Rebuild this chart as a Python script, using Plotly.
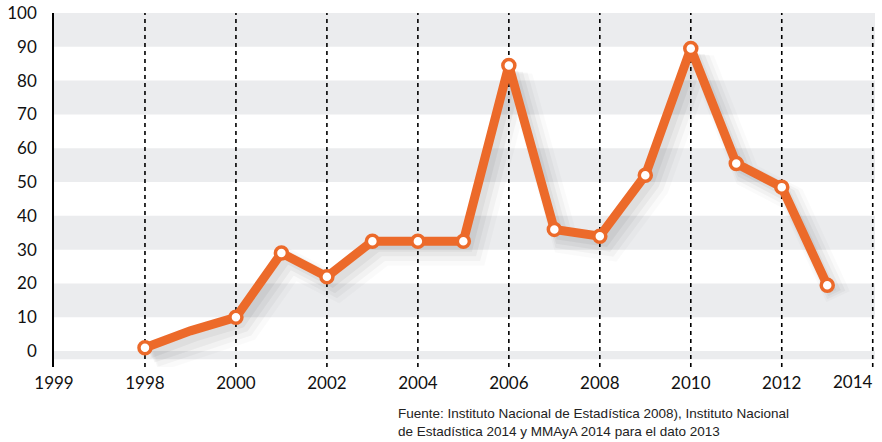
import plotly.graph_objects as go

years = [1998, 1999, 2000, 2001, 2002, 2003, 2004, 2005, 2006, 2007, 2008, 2009, 2010, 2011, 2012, 2013]
values = [1, 6, 10, 29, 22, 32.5, 32.5, 32.5, 84.5, 36, 34, 52, 89.5, 55.5, 48.5, 19.5]
tick_vals = [1996, 1998, 2000, 2002, 2004, 2006, 2008, 2010, 2012, 2014]
tick_text = ["1999", "1998", "2000", "2002", "2004", "2006", "2008", "2010", "2012", "2014"]
y_ticks = [0, 10, 20, 30, 40, 50, 60, 70, 80, 90, 100]
source = "Fuente: Instituto Nacional de Estadística 2008), Instituto Nacional<br>de Estadística 2014 y MMAyA 2014 para el dato 2013"

ORANGE = "#EC6A2A"

fig = go.Figure()

# soft shadow (offset copies of the same data)
for w, a, dx, dy in [(26, 0.02, 0.24, -3.4), (20, 0.03, 0.2, -2.9), (14, 0.04, 0.16, -2.4), (8, 0.045, 0.12, -1.9)]:
    fig.add_trace(go.Scatter(
        x=[x + dx for x in years], y=[v + dy for v in values], mode="lines",
        line=dict(color=f"rgba(0,0,0,{a})", width=w), hoverinfo="skip", showlegend=False))

fig.add_trace(go.Scatter(
    x=years, y=values, mode="lines",
    line=dict(color=ORANGE, width=9), showlegend=False))

mk_x = [x for x in years if x != 1999]
mk_y = [v for x, v in zip(years, values) if x != 1999]
fig.add_trace(go.Scatter(
    x=mk_x, y=mk_y, mode="markers",
    marker=dict(size=12, color="white", opacity=1, line=dict(color=ORANGE, width=3.5)),
    showlegend=False))

shapes = []
for lo in [10, 30, 50, 70, 90]:
    shapes.append(dict(type="rect", xref="paper", x0=0, x1=1, yref="y", y0=lo, y1=lo + 10,
                       fillcolor="#EBECEE", line=dict(width=0), layer="below"))
shapes.append(dict(type="rect", xref="paper", x0=0, x1=1, yref="y", y0=-2.4, y1=0,
                   fillcolor="#EBECEE", line=dict(width=0), layer="below"))
for t in tick_vals[1:]:
    shapes.append(dict(type="line", xref="x", x0=t, x1=t, yref="y", y0=-4.7, y1=100 if t != 2014 else 97,
                       line=dict(color="black", width=1.6, dash="4px,4px"), layer="below"))

annotations = [dict(text=source, xref="paper", yref="paper", x=0.416, y=-0.105,
                    xanchor="left", yanchor="top", align="left", showarrow=False,
                    font=dict(family="Liberation Sans, Arial, sans-serif", size=13.5, color="#222"))]
# last x tick label, right-aligned to its gridline so it fits inside the canvas
annotations.append(dict(text=tick_text[-1], xref="x", yref="paper", x=tick_vals[-1], y=0,
                        xanchor="right", yanchor="top", yshift=-2, xshift=2, showarrow=False,
                        font=dict(family="Lato, sans-serif", size=17, color="#111")))

fig.update_layout(
    width=882, height=442,
    margin=dict(l=54, r=7, t=13, b=75, autoexpand=False),
    paper_bgcolor="white", plot_bgcolor="white",
    shapes=shapes,
    font=dict(family="Lato, sans-serif", size=17, color="#111"),
    xaxis=dict(range=[1996, 2014.05], tickvals=tick_vals[:-1], ticktext=tick_text[:-1], automargin=False,
               showgrid=False, zeroline=False, showline=False, ticks="", ticklabelstandoff=4),
    yaxis=dict(range=[-4.7, 100], tickvals=y_ticks, showgrid=False, zeroline=False, automargin=False,
               showline=True, linecolor="black", linewidth=1.5, ticks="", ticklabelstandoff=12),
    annotations=annotations,
)

fig.write_html("out.html", config={"displayModeBar": False},
               post_script="document.body.style.margin='0px';document.body.style.overflow='hidden';")
